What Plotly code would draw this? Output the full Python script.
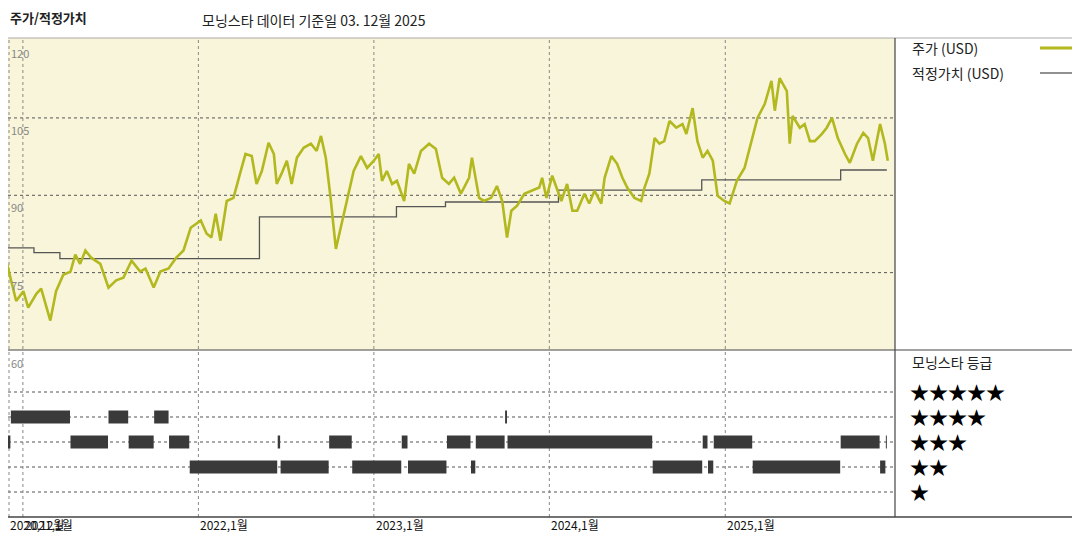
import plotly.graph_objects as go
import pandas as pd

# ---- data ----
base = pd.Timestamp("2021-01-01")
price_day = [-33,-14,1,11,28,38,57,69,84,99,109,119,130,142,161,178,194,209,226,244,255,272,286,303,319,334,349,370,382,392,401,411,424,438,453,463,476,486,497,511,522,528,538,549,559,570,584,599,611,620,630,640,651,661,674,688,703,
             716,730,740,747,757,768,778,793,803,814,828,845,859,872,886,897,911,928,934,949,959,974,986,997,1007,1016,1028,1043,1057,1074,1080,1089,1101,1112,1120,1132,1143,1153,1168,1178,1189,1203,1210,1224,1236,1247,1257,1272,1286,1293,1303,1314,1324,1334,1345,1359,1372,1380,1393,1403,1414,1424,1435,1445,
             1459,1470,1485,1501,1516,1528,1543,1557,1564,1574,1589,1595,1601,1616,1626,1637,1647,1662,1672,1683,1695,1710,1720,1735,1748,1758,1768,1783,1793,1799]
price_usd = [76.7,69.5,71.4,68.2,70.9,71.9,65.7,71.4,74.6,75.2,78.5,76.7,79.3,77.9,76.7,72.1,73.5,74.0,77.3,75.2,75.8,72.1,75.2,75.8,77.9,79.3,83.7,85.1,82.6,81.8,86.4,81.2,88.9,89.5,94.7,98.0,97.6,92.2,94.7,100.2,98.0,92.2,94.2,96.7,92.2,97.3,99.2,100.0,98.6,101.5,97.3,89.5,79.6,83.7,88.4,94.7,97.6,
             95.3,96.7,98.0,92.8,94.7,92.2,92.8,88.9,96.1,94.2,98.6,100.0,99.0,93.4,92.2,93.4,90.3,93.4,97.3,89.5,88.9,89.5,91.8,88.9,81.8,87.0,88.0,90.3,90.9,91.5,93.4,89.5,93.8,90.9,88.9,92.2,87.0,87.0,90.3,88.4,90.9,88.4,93.4,97.6,96.1,93.4,91.5,89.5,88.9,91.5,94.2,101.1,100.0,100.5,104.4,103.1,103.8,101.9,106.9,100.5,97.3,98.6,96.7,89.9,
             88.9,88.4,92.8,95.3,100.5,105.0,107.7,112.2,106.4,112.7,110.2,100.0,105.4,103.1,103.8,100.5,100.5,101.9,103.1,105.0,101.1,98.0,96.3,100.0,102.1,101.1,96.7,103.8,100.0,96.7]

fair_dates = ["2020-12-01","2021-01-24","2021-03-19","2022-05-08","2023-02-17","2023-05-30","2024-01-20","2024-11-13","2025-08-29","2025-12-03"]
fair_usd = [79.8,78.9,77.7,85.8,87.8,88.7,91.0,93.0,94.9,94.9]

rating_start = ["2020-12-01","2020-12-07","2021-04-10","2021-06-28","2021-08-09","2021-10-01","2021-11-01","2021-12-14","2022-06-15","2022-06-21","2022-09-30","2022-11-17","2023-02-28","2023-03-13","2023-06-02","2023-07-22","2023-08-01","2023-10-01","2023-10-06","2024-08-03","2024-11-15","2024-11-26","2024-12-08","2025-02-27","2025-08-29","2025-11-19","2025-12-01"]
rating_end = ["2020-12-06","2021-04-09","2021-06-27","2021-08-08","2021-09-30","2021-10-31","2021-12-13","2022-06-14","2022-06-20","2022-09-29","2022-11-16","2023-02-27","2023-03-12","2023-06-01","2023-07-21","2023-07-31","2023-09-30","2023-10-05","2024-08-02","2024-11-14","2024-11-25","2024-12-07","2025-02-26","2025-08-28","2025-11-18","2025-11-30","2025-12-03"]
rating_stars = [3,4,3,4,3,4,3,2,3,2,3,2,3,2,3,2,3,4,3,2,3,2,3,2,3,2,3]

year_ticks = ["2021-01-01","2022-01-01","2023-01-01","2024-01-01","2025-01-01"]
year_labels = ["2021,1월","2022,1월","2023,1월","2024,1월","2025,1월"]
y_ticks = [120,105,90,75]
y_labels = ["120","105","90","75"]

# ---- figure ----
W, H = 1080, 540
OFF = 8  # page body margin
def px(x): return max(0.0, (x - OFF) / W)
def py(y): return min(1.0, 1 - (y - OFF) / H)

FONT = "Noto Sans CJK KR, Liberation Sans, sans-serif"
GREEN = "#b2b81e"
fig = go.Figure()

price_dates = [base + pd.Timedelta(days=d) for d in price_day]
fig.add_trace(go.Scatter(x=fair_dates, y=fair_usd, mode="lines", line=dict(color="#555555", width=1.3, shape="hv"),
                         xaxis="x", yaxis="y", hoverinfo="skip"))
fig.add_trace(go.Scatter(x=price_dates, y=price_usd, mode="lines", line=dict(color=GREEN, width=2.6),
                         xaxis="x", yaxis="y"))

rx, ry = [], []
for s, e, r in zip(rating_start, rating_end, rating_stars):
    rx += [s, e, None]
    ry += [r, r, None]
fig.add_trace(go.Scatter(x=rx, y=ry, mode="lines", line=dict(color="#3a3a3a", width=13),
                         xaxis="x2", yaxis="y2", hoverinfo="skip"))

xr = ["2020-12-01", "2025-12-20"]
x_dom = [px(5), px(895)]
fig.update_layout(
    width=W, height=H, margin=dict(l=0, r=0, t=0, b=0),
    paper_bgcolor="white", plot_bgcolor="white", showlegend=False,
    font=dict(family=FONT, size=13, color="#222"),
    xaxis=dict(domain=x_dom, range=xr, showgrid=False, showticklabels=False, zeroline=False, anchor="y"),
    yaxis=dict(domain=[py(350), py(38)], range=[60, 120.5], showgrid=False, showticklabels=False, zeroline=False),
    xaxis2=dict(domain=x_dom, range=xr, showgrid=False, showticklabels=False, zeroline=False, anchor="y2", matches="x"),
    yaxis2=dict(domain=[py(517), py(350)], range=[0, 6.68], showgrid=False, showticklabels=False, zeroline=False),
)

shapes = []
shapes.append(dict(type="rect", xref="paper", yref="paper", x0=px(5), x1=px(895), y0=py(350), y1=py(38),
                   fillcolor="#f8f5da", line=dict(width=0), layer="below"))
for v in [105, 90, 75]:
    shapes.append(dict(type="line", xref="paper", yref="y", x0=px(5), x1=px(895), y0=v, y1=v,
                       line=dict(color="#555", width=1, dash="dot"), layer="below"))
for v in [1, 2, 3, 4, 5]:
    shapes.append(dict(type="line", xref="paper", yref="y2", x0=px(5), x1=px(895), y0=v, y1=v,
                       line=dict(color="#555", width=1, dash="dot"), layer="below"))
for t in year_ticks:
    shapes.append(dict(type="line", xref="x", yref="paper", x0=t, x1=t, y0=py(517), y1=py(38),
                       line=dict(color="#888", width=1, dash="dot"), layer="below"))
shapes.append(dict(type="line", xref="paper", yref="paper", x0=px(9), x1=px(9), y0=py(517), y1=py(38),
                   line=dict(color="#888", width=1, dash="dot"), layer="below"))
shapes.append(dict(type="line", xref="paper", yref="paper", x0=px(5), x1=1, y0=py(38), y1=py(38), line=dict(color="#aaa", width=1)))
shapes.append(dict(type="line", xref="paper", yref="paper", x0=px(5), x1=1, y0=py(350), y1=py(350), line=dict(color="#444", width=1)))
shapes.append(dict(type="line", xref="paper", yref="paper", x0=px(5), x1=1, y0=py(517), y1=py(517), line=dict(color="#444", width=1.5)))
shapes.append(dict(type="line", xref="paper", yref="paper", x0=px(895), x1=px(895), y0=py(517), y1=py(38), line=dict(color="#444", width=1.2)))
shapes.append(dict(type="line", xref="paper", yref="paper", x0=px(1040), x1=px(1072), y0=py(48), y1=py(48), line=dict(color=GREEN, width=3)))
shapes.append(dict(type="line", xref="paper", yref="paper", x0=px(1040), x1=px(1072), y0=py(73), y1=py(73), line=dict(color="#555", width=1.3)))
fig.update_layout(shapes=shapes)

ann = []
def txt(x, y, s, size=13, color="#222", xanchor="left", bold=False):
    ann.append(dict(xref="paper", yref="paper", x=px(x), y=py(y), text=("<b>%s</b>" % s) if bold else s,
                    showarrow=False, xanchor=xanchor, yanchor="middle", font=dict(size=size, color=color, family=FONT)))

txt(8, 18, "주가/적정가치", size=13, bold=True)
txt(200, 20, "모닝스타 데이터 기준일 03. 12월 2025", size=14)
txt(910, 48, "주가 (USD)", size=14)
txt(910, 73, "적정가치 (USD)", size=14)
txt(910, 362, "모닝스타 등급", size=14)
stars = ["★★★★★", "★★★★", "★★★", "★★", "★"]
for i, s in enumerate(stars):
    txt(908, 391 + 25 * i, s, size=19, color="#000")
for v, l in zip(y_ticks, y_labels):
    ann.append(dict(xref="paper", yref="y", x=px(9), y=v, text=l, showarrow=False, xanchor="left", yanchor="top",
                    yshift=-2, font=dict(size=11, color="#888", family=FONT)))
txt(9, 363, "60", size=11, color="#888")
txt(8, 524, "2020,12월", size=12, color="#111")
for t, l in zip(year_ticks, year_labels):
    ann.append(dict(xref="x", yref="paper", x=t, y=py(524), text=l, showarrow=False, xanchor="left", yanchor="middle",
                    font=dict(size=12, color="#111", family=FONT)))
fig.update_layout(annotations=ann)

fig.write_html("out.html")
